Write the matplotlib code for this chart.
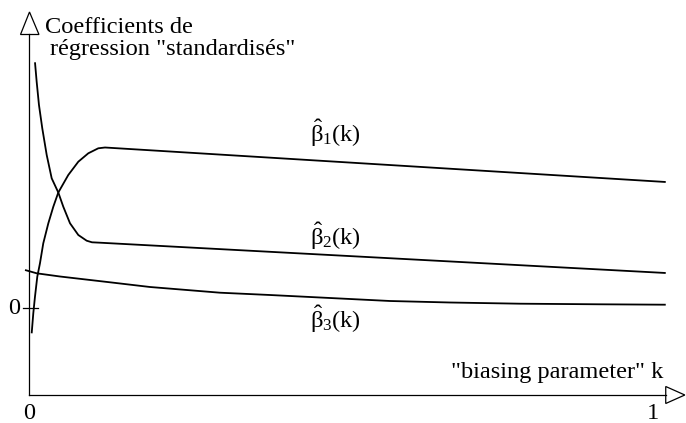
import matplotlib
matplotlib.use("Agg")
import matplotlib.pyplot as plt
from matplotlib.patches import Polygon

plt.rcParams["font.family"] = ["Liberation Serif", "DejaVu Serif"]
plt.rcParams["mathtext.fontset"] = "custom"
plt.rcParams["mathtext.rm"] = "Liberation Serif"
plt.rcParams["mathtext.it"] = "Liberation Serif:italic"

# Ridge trace: standardized regression coefficients vs. biasing parameter k
k_b1 = [0.0035, 0.0061, 0.0088, 0.0125, 0.0168, 0.0221, 0.0302, 0.0382,
        0.0462, 0.0622, 0.0783, 0.0943, 0.1103, 0.1211, 1.0204]
b1 = [-0.256, -0.056, 0.110, 0.310, 0.444, 0.644, 0.844, 1.010,
      1.152, 1.327, 1.460, 1.544, 1.594, 1.602, 1.257]

k_b2 = [0.0088, 0.0115, 0.0152, 0.0205, 0.0276, 0.0356, 0.0462, 0.0542,
        0.0650, 0.0783, 0.0917, 0.1002, 0.1131, 1.0204]
b2 = [2.454, 2.260, 2.027, 1.794, 1.527, 1.294, 1.152, 1.010,
      0.844, 0.727, 0.670, 0.654, 0.650, 0.347]

k_b3 = [-0.0072, 0.0115, 0.0489, 0.1291, 0.1933, 0.3055, 0.3857, 0.4820,
        0.5782, 0.6744, 0.7867, 0.9150, 1.0204]
b3 = [0.377, 0.344, 0.312, 0.254, 0.207, 0.150, 0.127, 0.097,
      0.067, 0.052, 0.040, 0.034, 0.030]

x_ticks = [0, 1]
x_tick_labels = ["0", "1"]
y_tick_label = "0"
series_labels = [r"$\hat{\mathrm{\beta}}_{1}\mathrm{(k)}$",
                 r"$\hat{\mathrm{\beta}}_{2}\mathrm{(k)}$",
                 r"$\hat{\mathrm{\beta}}_{3}\mathrm{(k)}$"]

fig = plt.figure(figsize=(6.86, 4.23), dpi=100)
ax = fig.add_axes([0, 0, 1, 1])
ax.set_xlim(-0.0473, 1.0529)
ax.set_ylim(-1.153, 3.077)
ax.axis("off")

FS = 17.6
LW = 1.3

# curves
for kk, bb in [(k_b1, b1), (k_b2, b2), (k_b3, b3)]:
    ax.plot(kk, bb, color="black", lw=LW, solid_joinstyle="round",
            solid_capstyle="butt")

# axes with hollow arrow heads
x_axis_y = -0.873
ax.plot([0, 1.0204], [x_axis_y, x_axis_y], color="black", lw=0.9)
ax.plot([0, 0], [x_axis_y, 2.732], color="black", lw=0.9)
ax.add_patch(Polygon([[1.0204, x_axis_y + 0.085], [1.0510, x_axis_y],
                      [1.0204, x_axis_y - 0.085]], closed=True,
                     facecolor="white", edgecolor="black", lw=0.9))
ax.add_patch(Polygon([[-0.0144, 2.732], [0, 2.957], [0.0152, 2.732]],
                     closed=True, facecolor="white", edgecolor="black", lw=0.9))

# zero tick on y axis
ax.plot([-0.0099, 0.0141], [0, 0], color="black", lw=0.9)
ax.text(-0.0150, -0.010, y_tick_label, ha="right", va="center", fontsize=FS)

# x tick labels
for xt, lab in zip(x_ticks, x_tick_labels):
    ax.text(xt, -1.110, lab, ha="center", va="baseline", fontsize=FS)

# axis titles
ax.text(0.0249, 2.747, "Coefficients de", ha="left", va="baseline", fontsize=FS)
ax.text(0.0329, 2.527, "régression \"standardisés\"", ha="left",
        va="baseline", fontsize=FS)
ax.text(1.016, -0.703, "\"biasing parameter\" k", ha="right", va="baseline",
        fontsize=FS)

# series labels
for y_lab, lab in zip([1.657, 0.627, -0.203], series_labels):
    ax.text(0.450, y_lab, lab, ha="left", va="baseline", fontsize=FS)

fig.savefig("out.png", dpi=100)
